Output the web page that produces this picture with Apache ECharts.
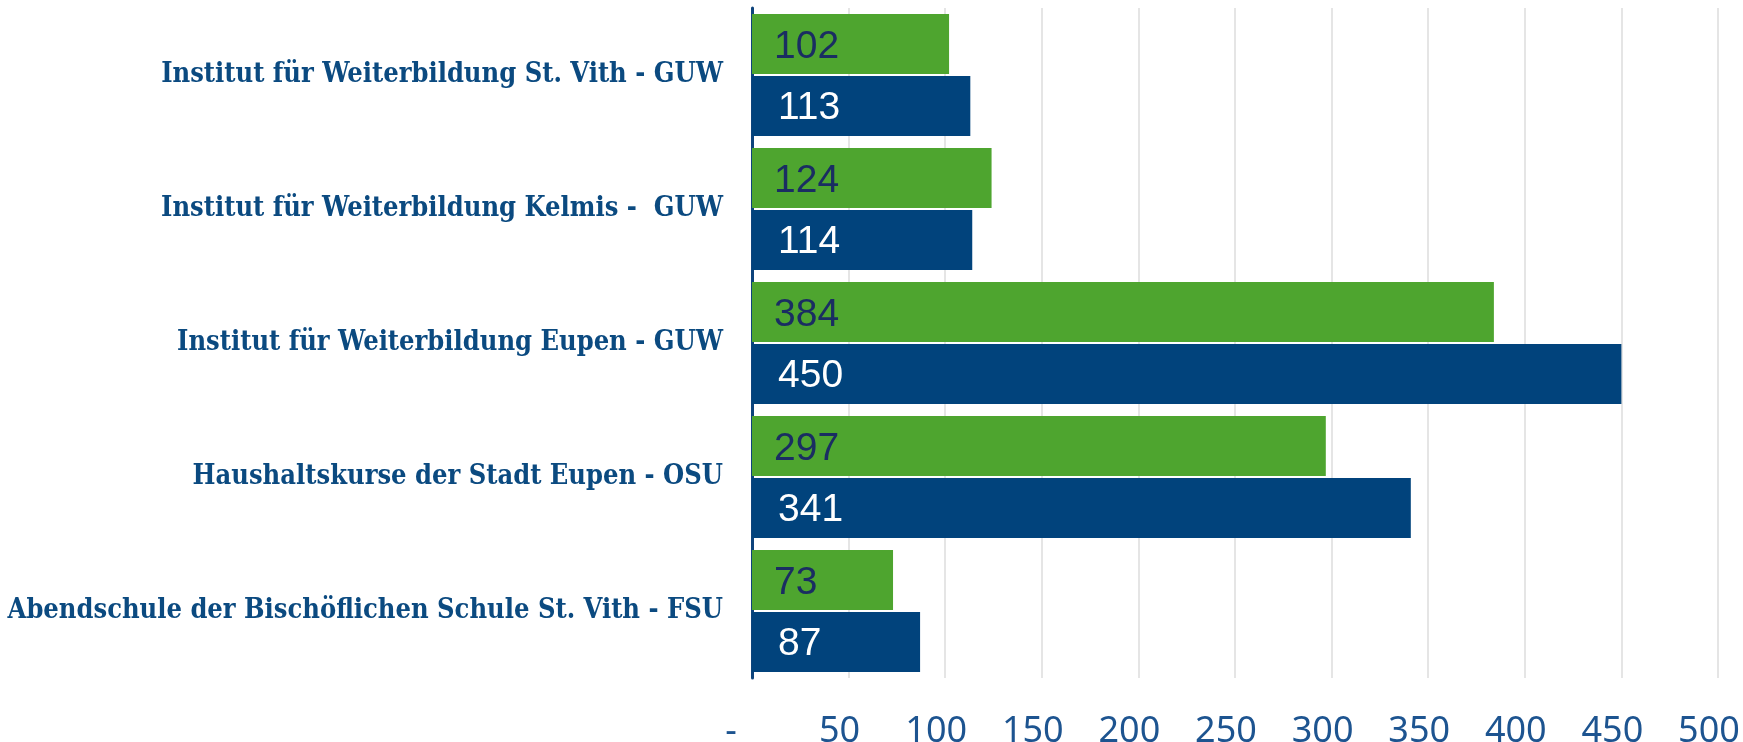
<!DOCTYPE html>
<html>
<head>
<meta charset="utf-8">
<script src="https://cdn.jsdelivr.net/npm/echarts@6/dist/echarts.min.js"></script>
<style>
    html, body { margin: 0; padding: 0; background: #fff; }
    #chart { width: 1743px; height: 742px; }
</style>
</head>
<body>
<div id="chart"></div>
<script>
// categories, top to bottom
const categories = [
    'Institut für Weiterbildung St. Vith - GUW',
    'Institut für Weiterbildung Kelmis -  GUW',
    'Institut für Weiterbildung Eupen - GUW',
    'Haushaltskurse der Stadt Eupen - OSU',
    'Abendschule der Bischöflichen Schule St. Vith - FSU'
];
const greenValues = [102, 124, 384, 297, 73];
const blueValues = [113, 114, 450, 341, 87];
const xTicks = { min: 0, max: 500, step: 50 };

const chart = echarts.init(document.getElementById('chart'));

const labelFont = '"Liberation Sans Narrow", "Liberation Sans", sans-serif';
const tickFont = '"Noto Sans", sans-serif';

chart.setOption({
    animation: false,
    grid: {
        left: 752,
        right: 25,
        top: 8,
        bottom: 64,
        outerBoundsMode: 'none'
    },
    xAxis: {
        type: 'value',
        min: xTicks.min,
        max: xTicks.max,
        interval: xTicks.step,
        axisLine: { show: false },
        axisTick: { show: false },
        splitLine: {
            show: true,
            lineStyle: { color: '#dcdcdc', width: 1.5 }
        },
        axisLabel: {
            margin: 36,
            formatter: (v) => (v === 0 ? '{z|-}' : '{n|' + v + '}'),
            rich: {
                n: { fontSize: 36, fontFamily: tickFont, color: '#1d5490', padding: [0, 18, 0, 0] },
                z: { fontSize: 36, fontFamily: tickFont, color: '#1d5490', padding: [0, 42, 0, 0] }
            }
        }
    },
    yAxis: {
        type: 'category',
        inverse: true,
        data: categories,
        axisLine: {
            show: true,
            lineStyle: { color: '#0e447c', width: 3 }
        },
        axisTick: { show: false },
        axisLabel: {
            margin: 29,
            fontSize: 27,
            fontWeight: 'bold',
            fontFamily: '"DejaVu Serif Condensed", "DejaVu Serif", serif',
            color: '#0b4a80'
        }
    },
    series: [
        {
            name: 'green',
            type: 'bar',
            data: greenValues,
            barCategoryGap: '9%',
            barGap: '3%',
            itemStyle: { color: '#4ea52f' },
            label: {
                show: true,
                position: 'insideLeft',
                distance: 22,
                offset: [0, 3],
                fontSize: 39,
                fontFamily: labelFont,
                color: '#1a2d62'
            }
        },
        {
            name: 'blue',
            type: 'bar',
            data: blueValues,
            barCategoryGap: '9%',
            barGap: '3%',
            itemStyle: { color: '#01437c' },
            label: {
                show: true,
                position: 'insideLeft',
                distance: 26,
                offset: [0, 2],
                fontSize: 39,
                fontFamily: labelFont,
                color: '#ffffff'
            }
        }
    ]
});

window.addEventListener('resize', () => chart.resize());
</script>
</body>
</html>
